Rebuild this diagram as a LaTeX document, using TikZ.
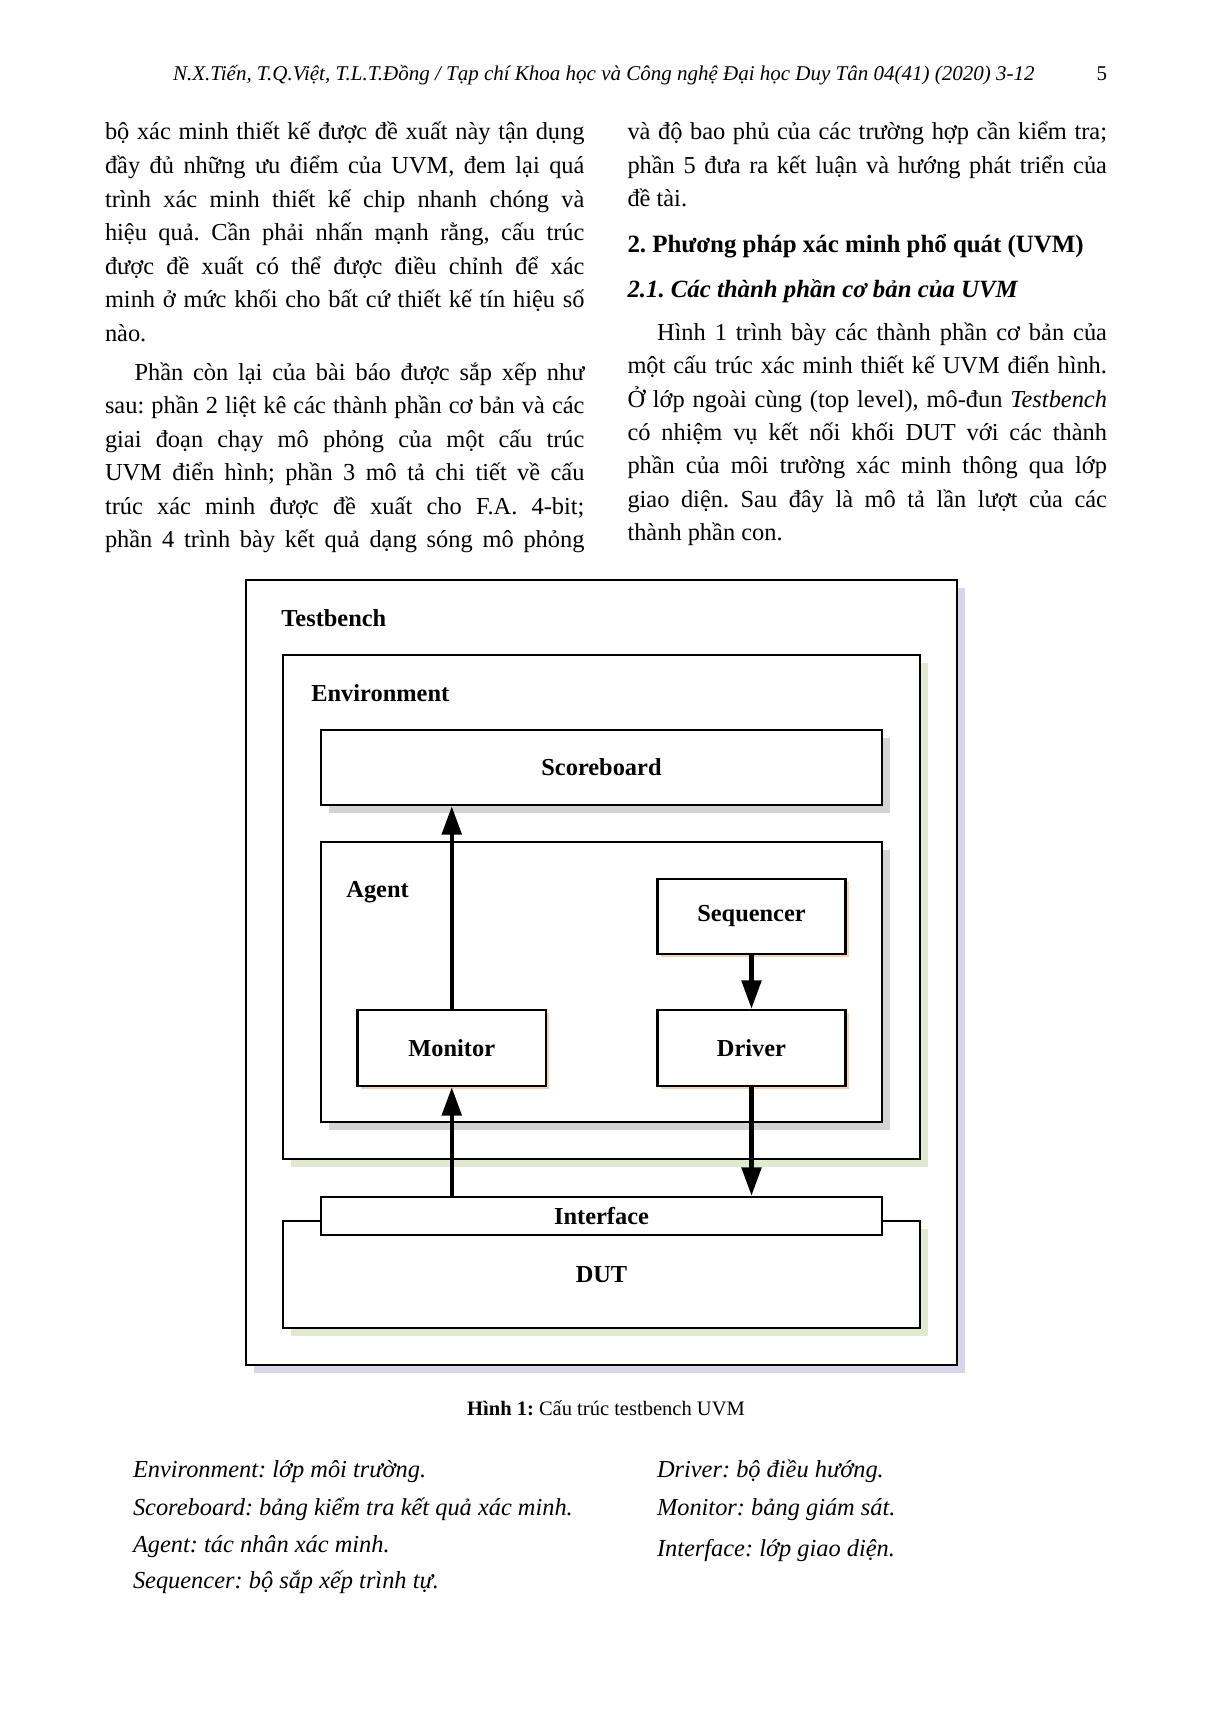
\documentclass[tikz,border=0pt]{standalone}
\usepackage{fontspec}
\setmainfont{Liberation Serif}
\usetikzlibrary{arrows.meta,fit,shadows}
\definecolor{shTB}{RGB}{218,212,234}
\definecolor{shEnv}{RGB}{224,234,206}
\definecolor{shGr}{RGB}{212,212,212}
\definecolor{shOr}{RGB}{246,210,180}
\newlength\colw \setlength\colw{235.9bp}
\newlength\colwi \setlength\colwi{221.4bp}
\newcommand\J[1]{\makebox[\colw][s]{#1}}
\newcommand\Ji[1]{\makebox[\colwi][s]{#1}}
\frenchspacing
\begin{document}
\frenchspacing
\begin{tikzpicture}[x=0.492bp,y=-0.492bp,
 txt/.style={anchor=base west,inner sep=0pt,outer sep=0pt,font=\fontsize{12bp}{14bp}\selectfont},
 box/.style={draw,line width=1.2bp,fill=white,inner sep=0pt},
 lbl/.style={font=\fontsize{12bp}{14bp}\selectfont\bfseries,inner sep=0pt},
 lblc/.style={lbl,anchor=base west},
 arr/.style={line width=2.2bp,-{Triangle[length=14bp,width=9.5bp]}},
 shad/.style={general shadow={fill=#1,shadow xshift=3.9bp,shadow yshift=-3.9bp}},
 shads/.style={general shadow={fill=#1,shadow xshift=1.5bp,shadow yshift=-1.5bp}},
]
\fill[white] (0,0) rectangle (1210,1712);
\useasboundingbox (0,0) rectangle (1210,1712);

% header
\node[txt,font=\fontsize{10.33bp}{12bp}\selectfont\itshape] (hdr) at (173,80) {N.X.Tiến, T.Q.Việt, T.L.T.Đồng / Tạp chí Khoa học và Công nghệ Đại học Duy Tân 04(41) (2020) 3-12};
\node[txt,anchor=base east,font=\fontsize{10.33bp}{12bp}\selectfont] (pg) at (1107,80) {5};

% left column
\node[txt] (l1) at (105,139.5) {\J{bộ xác minh thiết kế được đề xuất này tận dụng}};
\node[txt] (l2) at (105,173) {\J{đầy đủ những ưu điểm của UVM, đem lại quá}};
\node[txt] (l3) at (105,207) {\J{trình xác minh thiết kế chip nhanh chóng và}};
\node[txt] (l4) at (105,240) {\J{hiệu quả. Cần phải nhấn mạnh rằng, cấu trúc}};
\node[txt] (l5) at (105,274) {\J{được đề xuất có thể được điều chỉnh để xác}};
\node[txt] (l6) at (105,307) {\J{minh ở mức khối cho bất cứ thiết kế tín hiệu số}};
\node[txt] (l7) at (105,341) {nào.};
\node[txt] (l8) at (134.5,380) {\Ji{Phần còn lại của bài báo được sắp xếp như}};
\node[txt] (l9) at (105,413.5) {\J{sau: phần 2 liệt kê các thành phần cơ bản và các}};
\node[txt] (l10) at (105,447) {\J{giai đoạn chạy mô phỏng của một cấu trúc}};
\node[txt] (l11) at (105,480.5) {\J{UVM điển hình; phần 3 mô tả chi tiết về cấu}};
\node[txt] (l12) at (105,514) {\J{trúc xác minh được đề xuất cho F.A. 4-bit;}};
\node[txt] (l13) at (105,547) {\J{phần 4 trình bày kết quả dạng sóng mô phỏng}};

% right column
\node[txt] (r1) at (627.5,139.5) {\J{và độ bao phủ của các trường hợp cần kiểm tra;}};
\node[txt] (r2) at (627.5,173) {\J{phần 5 đưa ra kết luận và hướng phát triển của}};
\node[txt] (r3) at (627.5,206.5) {đề tài.};
\node[txt,font=\fontsize{12.25bp}{14bp}\selectfont\bfseries] (r4) at (627.5,252) {2. Phương pháp xác minh phổ quát (UVM)};
\node[txt,font=\fontsize{12.2bp}{14bp}\selectfont\bfseries\itshape] (r5) at (627.5,297) {2.1. Các thành phần cơ bản của UVM};
\node[txt] (r6) at (657,340) {\Ji{Hình 1 trình bày các thành phần cơ bản của}};
\node[txt] (r7) at (627.5,373.5) {\J{một cấu trúc xác minh thiết kế UVM điển hình.}};
\node[txt] (r8) at (627.5,407) {\J{Ở lớp ngoài cùng (top level), mô-đun \textit{Testbench}}};
\node[txt] (r9) at (627.5,440) {\J{có nhiệm vụ kết nối khối DUT với các thành}};
\node[txt] (r10) at (627.5,473.5) {\J{phần của môi trường xác minh thông qua lớp}};
\node[txt] (r11) at (627.5,507) {\J{giao diện. Sau đây là mô tả lần lượt của các}};
\node[txt] (r12) at (627.5,540) {thành phần con.};

% diagram
\node[box,shad=shTB,fit={(246,580)(957,1365)}] (tb) {};
\node[lblc] (tbl) at (281,626) {Testbench};
\node[box,shad=shEnv,fit={(283,655)(920,1159)}] (env) {};
\node[lblc] (envl) at (311,701) {Environment};
\node[box,shad=shGr,fit={(321,730)(882,805)}] (sb) {};
\node[lbl] (sbt) at (sb) {Scoreboard};
\node[box,shad=shGr,fit={(321,842)(882,1122)}] (ag) {};
\node[lblc] (agl) at (346,897) {Agent};
\node[box,shads=shOr,fit={(657.5,879)(845.5,954)}] (seq) {};
\node[lbl] (seqt) at (seq) {Sequencer};
\node[box,shads=shOr,fit={(357.5,1010)(546,1086)}] (mon) {};
\node[lbl] (mont) at (mon) {Monitor};
\node[box,shads=shOr,fit={(657.5,1010)(845.5,1086)}] (drv) {};
\node[lbl] (drvt) at (drv) {Driver};
\node[box,shad=shEnv,fit={(283,1221)(920,1328)}] (dut) {};
\node[lbl] (dutt) at (dut) {DUT};
\node[box,fit={(321,1197)(882,1235)}] (intf) {};
\node[lbl] (intft) at (intf) {Interface};

\draw[arr] (mon.north) -- (mon.north |- sb.south);
\draw[arr] (mon.south |- intf.north) -- (mon.south);
\draw[arr] (seq.south) -- (drv.north);
\draw[arr] (drv.south) -- (drv.south |- intf.north);

% caption
\node[anchor=base,inner sep=0pt,font=\fontsize{10.1bp}{12bp}\selectfont] (cap) at (606,1415.5) {\textbf{Hình 1:} Cấu trúc testbench UVM};

% list
\node[txt,font=\fontsize{12bp}{14bp}\selectfont\itshape] (e1) at (133,1477) {Environment: lớp môi trường.};
\node[txt,font=\fontsize{12bp}{14bp}\selectfont\itshape] (e2) at (133,1515) {Scoreboard: bảng kiểm tra kết quả xác minh.};
\node[txt,font=\fontsize{12bp}{14bp}\selectfont\itshape] (e3) at (133,1552) {Agent: tác nhân xác minh.};
\node[txt,font=\fontsize{12bp}{14bp}\selectfont\itshape] (e4) at (133,1588) {Sequencer: bộ sắp xếp trình tự.};
\node[txt,font=\fontsize{12bp}{14bp}\selectfont\itshape] (e5) at (657,1477) {Driver: bộ điều hướng.};
\node[txt,font=\fontsize{12bp}{14bp}\selectfont\itshape] (e6) at (657,1515) {Monitor: bảng giám sát.};
\node[txt,font=\fontsize{12bp}{14bp}\selectfont\itshape] (e7) at (657,1556) {Interface: lớp giao diện.};
\end{tikzpicture}
\end{document}
